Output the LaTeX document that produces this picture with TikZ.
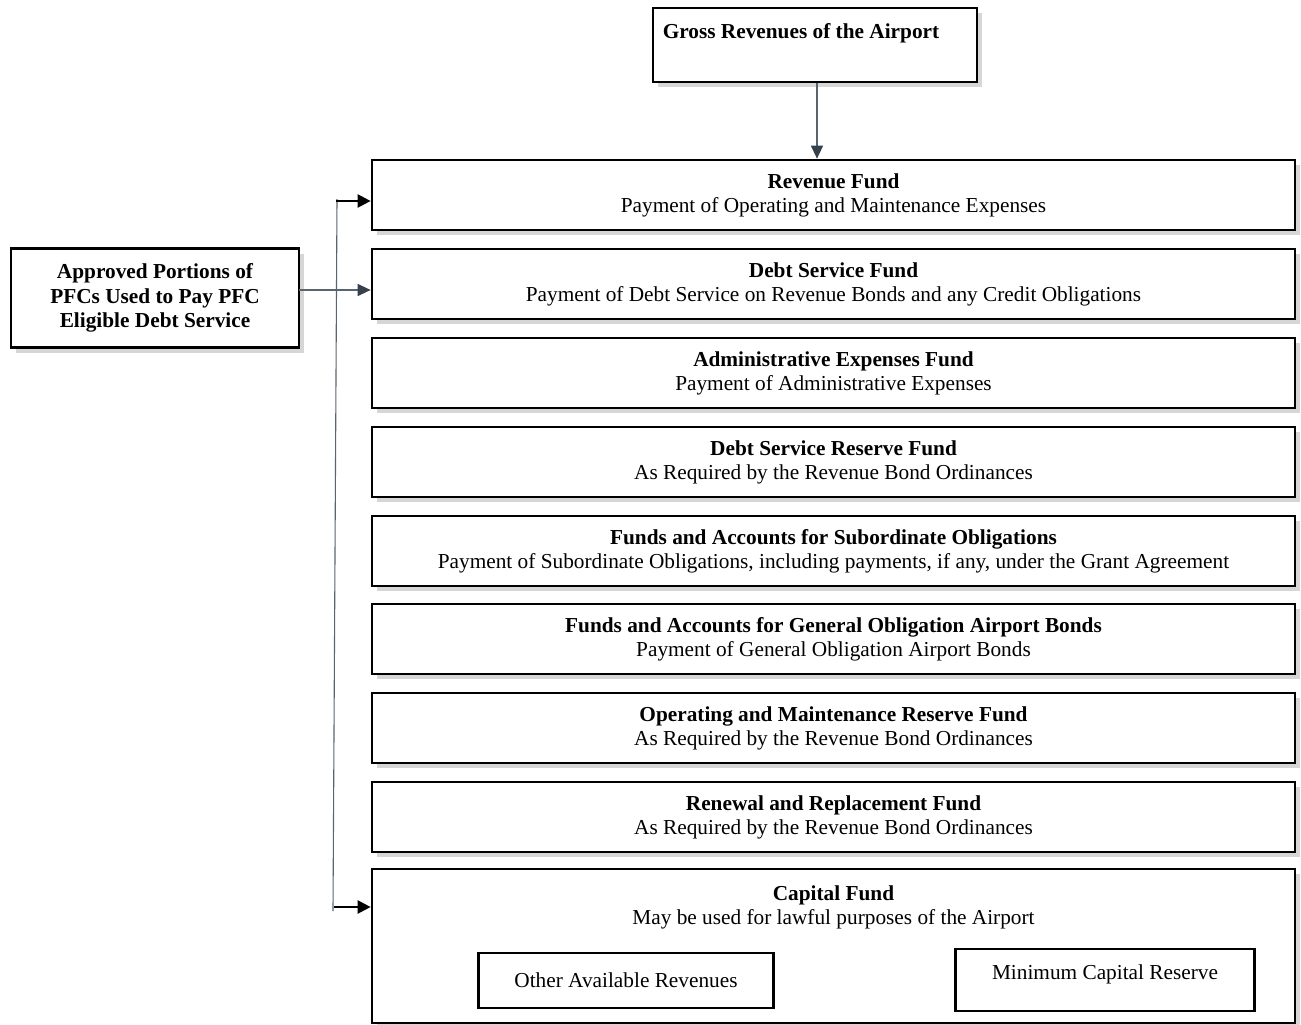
\documentclass[tikz,border=0pt]{standalone}
\usepackage{fontspec}
\setmainfont{Liberation Serif}
\usetikzlibrary{arrows.meta,shadows}
\definecolor{slate}{HTML}{37414C}
\definecolor{slateline}{HTML}{5A646E}
\begin{document}
\begin{tikzpicture}[x=1pt,y=-1pt,
  box/.style={draw=black, line width=2.7pt, fill=white, inner sep=2pt,
    drop shadow={shadow xshift=5pt, shadow yshift=-5pt, fill=black!16, opacity=1}},
  fund/.style={box, minimum width=923pt, minimum height=70pt, align=center,
    font=\fontsize{21.3}{24}\selectfont},
  inbox/.style={draw=black, line width=2.4pt, fill=white},
  txt/.style={font=\fontsize{21.3}{24}\selectfont},
  garrow/.style={draw=slateline, line width=1.3pt, -{Triangle[length=13pt,width=12pt,fill=slate,color=slate]}},
  barrow/.style={draw=black, line width=2.3pt, -{Triangle[length=13pt,width=13pt]}},
  vline/.style={draw=slateline, line width=1.1pt}
]
\useasboundingbox (0,0) rectangle (1301,1025);
\begin{scope}
\clip (0,0) rectangle (1301,1025);

% top box
\node[box, minimum width=324pt, minimum height=74pt] (gross) at (815,45) {};
\node[font=\fontsize{21.3}{24}\selectfont\bfseries] (grosst) at (801,33) {Gross Revenues of the Airport};

% funds
\node[fund] (rev) at (833.5,195) {\textbf{Revenue Fund}\\Payment of Operating and Maintenance Expenses};
\node[fund] (debt) at (833.5,284) {\textbf{Debt Service Fund}\\Payment of Debt Service on Revenue Bonds and any Credit Obligations};
\node[fund] (admin) at (833.5,373) {\textbf{Administrative Expenses Fund}\\Payment of Administrative Expenses};
\node[fund] (dsr) at (833.5,462) {\textbf{Debt Service Reserve Fund}\\As Required by the Revenue Bond Ordinances};
\node[fund] (subo) at (833.5,551) {\textbf{Funds and Accounts for Subordinate Obligations}\\Payment of Subordinate Obligations, including payments, if any, under the Grant Agreement};
\node[fund] (go) at (833.5,639) {\textbf{Funds and Accounts for General Obligation Airport Bonds}\\Payment of General Obligation Airport Bonds};
\node[fund] (om) at (833.5,728) {\textbf{Operating and Maintenance Reserve Fund}\\As Required by the Revenue Bond Ordinances};
\node[fund] (rr) at (833.5,817) {\textbf{Renewal and Replacement Fund}\\As Required by the Revenue Bond Ordinances};

% capital fund
\node[box, minimum width=923pt, minimum height=154pt] (cap) at (833.5,946) {};
\node[txt, align=center] (capt) at (833.5,907) {\textbf{Capital Fund}\\May be used for lawful purposes of the Airport};
\node[inbox, minimum width=295pt, minimum height=55pt, txt] (oar) at (626,980.5) {Other Available Revenues};
\node[inbox, minimum width=299pt, minimum height=62pt] (mcr) at (1105,980) {};
\node[txt] (mcrt) at (1105,974) {Minimum Capital Reserve};

% approved
\node[box, minimum width=288pt, minimum height=99pt, align=center,
  font=\fontsize{21.3}{24.5}\selectfont\bfseries] (appr) at (155,298)
  {Approved Portions of\\PFCs Used to Pay PFC\\Eligible Debt Service};

% connectors
\draw[garrow] (gross.south -| 817,0) -- (rev.north -| 817,0);
\coordinate (a1) at (299,290);
\draw[garrow] (a1) -- (a1 -| debt.west);

\coordinate (ltop) at (336,201);
\coordinate (lbot) at (334,907);
\draw[vline] (337,199) -- (333,911);
\draw[barrow] (ltop) -- (ltop -| rev.west);
\draw[barrow] (lbot) -- (lbot -| cap.west);
\end{scope}
\end{tikzpicture}
\end{document}
